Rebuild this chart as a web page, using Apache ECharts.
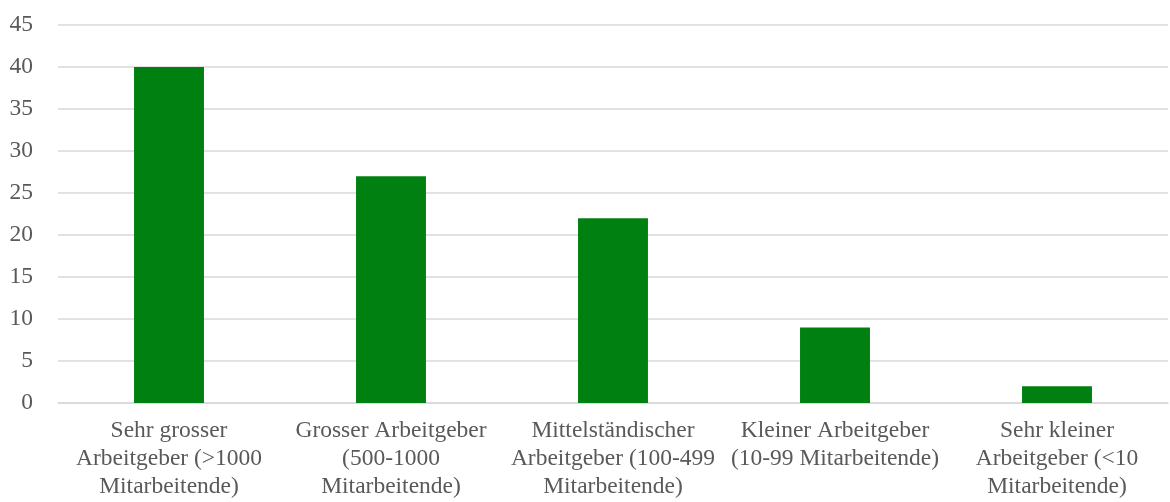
<!DOCTYPE html>
<html>
<head>
<meta charset="utf-8">
<script src="https://cdn.jsdelivr.net/npm/echarts@6/dist/echarts.min.js"></script>
<style>html,body{margin:0;padding:0;background:#fff}#c{width:1170px;height:502px}</style>
</head>
<body>
<div id="c"></div>
<script>
const categories = [
  "Sehr grosser\nArbeitgeber (>1000\nMitarbeitende)",
  "Grosser Arbeitgeber\n(500-1000\nMitarbeitende)",
  "Mittelständischer\nArbeitgeber (100-499\nMitarbeitende)",
  "Kleiner Arbeitgeber\n(10-99 Mitarbeitende)",
  "Sehr kleiner\nArbeitgeber (<10\nMitarbeitende)"
];
const values = [40, 27, 22, 9, 2];

const chart = echarts.init(document.getElementById('c'));
const font = "'Liberation Serif', 'DejaVu Serif', serif";
chart.setOption({
  animation: false,
  grid: {left: 58, right: 2, top: 25, bottom: 99, containLabel: false},
  xAxis: {
    type: 'category',
    data: categories,
    axisLine: {lineStyle: {color: '#d9d9d9', width: 1.5}},
    axisTick: {show: false},
    axisLabel: {color: '#595959', fontFamily: font, fontSize: 23.5, lineHeight: 28, margin: 14, interval: 0}
  },
  yAxis: {
    type: 'value',
    min: 0, max: 45, interval: 5,
    axisLine: {show: false},
    axisTick: {show: false},
    splitLine: {lineStyle: {color: '#d9d9d9', width: 1.5}},
    axisLabel: {color: '#595959', fontFamily: font, fontSize: 23.5, margin: 25, padding: [0, 0, 4, 0]}
  },
  series: [{
    type: 'bar',
    data: values,
    barWidth: '31.5%',
    itemStyle: {color: '#008010'}
  }]
});
</script>
</body>
</html>
